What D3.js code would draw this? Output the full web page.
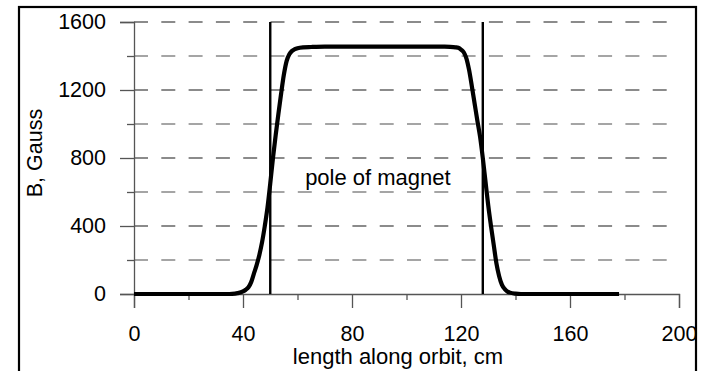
<!DOCTYPE html>
<html>
<head>
<meta charset="utf-8">
<script src="https://cdn.jsdelivr.net/npm/d3@7"></script>
<style>
  html, body { margin: 0; padding: 0; background: #fff; }
  svg { display: block; font-family: "Liberation Sans", Arial, sans-serif; }
</style>
</head>
<body>
<svg id="chart" width="704" height="371"></svg>
<script>
// Field profile along the orbit (cm -> Gauss)
const positionCm = [0, 10, 20, 30, 34, 36, 38, 40, 41, 42, 43, 44, 45, 46, 47, 48, 49, 50,
  51, 52, 53, 54, 55, 56, 57, 58, 59, 60, 62, 65, 70, 80, 90, 100, 110, 114, 116, 118, 119,
  120, 121, 122, 123, 124, 125, 126, 127, 128, 129, 130, 131, 132, 133, 134, 135, 136, 137,
  138, 140, 142, 150, 160, 170, 178];
const fieldGauss = [0, 0, 0, 0, 0, 1, 5, 15, 25, 40, 70, 120, 170, 230, 305, 400, 510, 650,
  800, 935, 1060, 1180, 1290, 1370, 1410, 1430, 1440, 1446, 1451, 1453, 1455, 1455, 1455, 1455, 1455, 1455, 1454, 1451, 1448,
  1438, 1422, 1385, 1315, 1220, 1120, 1020, 925, 800, 660, 520, 400, 290, 180, 105, 55, 30, 15,
  8, 2, 0, 0, 0, 0, 0];

// Pole edges of the magnet (cm)
const poleEdges = [50, 128];

// Axis ticks
const xTickValues = [0, 40, 80, 120, 160, 200];
const xMinorTicks = [20, 60, 100, 140, 180];
const yTickValues = [0, 400, 800, 1200, 1600];
const yMinorTicks = [200, 600, 1000, 1400];

const xTitle = "length along orbit, cm";
const yTitle = "B, Gauss";
const poleLabel = "pole of magnet";

const svg = d3.select("#chart");

// Outer frame
svg.append("rect")
  .attr("x", 19).attr("y", 7)
  .attr("width", 677).attr("height", 400)
  .attr("fill", "none").attr("stroke", "#000").attr("stroke-width", 2.2);

const x = d3.scaleLinear().domain([0, 200]).range([134, 679]);
const y = d3.scaleLinear().domain([0, 1600]).range([294, 22]);

// Dashed horizontal gridlines (major darker, minor lighter)
const grid = svg.append("g");
grid.selectAll("line.major")
  .data(yTickValues.filter(v => v > 0))
  .join("line")
  .attr("x1", x(0)).attr("x2", x(200))
  .attr("y1", d => y(d)).attr("y2", d => y(d))
  .attr("stroke", "#666").attr("stroke-width", 1.4)
  .attr("stroke-dasharray", "14 13.3");
grid.selectAll("line.minor")
  .data(yMinorTicks)
  .join("line")
  .attr("x1", x(0)).attr("x2", x(200))
  .attr("y1", d => y(d)).attr("y2", d => y(d))
  .attr("stroke", "#888").attr("stroke-width", 1.3)
  .attr("stroke-dasharray", "14 13.3");

// Y axis
const yAxis = svg.append("g")
  .attr("transform", `translate(${x(0)},0)`)
  .call(d3.axisLeft(y).tickValues(yTickValues).tickSize(14).tickPadding(14).tickFormat(d3.format("d")));
yAxis.selectAll(".tick text").attr("font-size", 21.5).attr("fill", "#000");
svg.append("g")
  .attr("transform", `translate(${x(0)},0)`)
  .call(d3.axisLeft(y).tickValues(yMinorTicks).tickSize(7).tickFormat(""))
  .call(g => g.select(".domain").remove());

// X axis
const xAxis = svg.append("g")
  .attr("transform", `translate(0,${y(0)})`)
  .call(d3.axisBottom(x).tickValues(xTickValues).tickSize(14).tickPadding(18).tickFormat(d3.format("d")));
xAxis.selectAll(".tick text").attr("font-size", 21.5).attr("fill", "#000");
svg.append("g")
  .attr("transform", `translate(0,${y(0)})`)
  .call(d3.axisBottom(x).tickValues(xMinorTicks).tickSize(6).tickFormat(""))
  .call(g => g.select(".domain").remove());

svg.selectAll(".domain, .tick line")
  .attr("stroke", "#555").attr("stroke-width", 1.3);

// Pole edge markers
svg.append("g").selectAll("line")
  .data(poleEdges)
  .join("line")
  .attr("x1", d => x(d)).attr("x2", d => x(d))
  .attr("y1", y(1600)).attr("y2", y(0))
  .attr("stroke", "#000").attr("stroke-width", 2.4);

// Field curve
const line = d3.line()
  .x((d, i) => x(positionCm[i]))
  .y(d => y(d))
  .curve(d3.curveMonotoneX);
svg.append("path")
  .datum(fieldGauss)
  .attr("d", line)
  .attr("fill", "none")
  .attr("stroke", "#000")
  .attr("stroke-width", 4.2)
  .attr("stroke-linejoin", "round");

// Annotation
svg.append("text")
  .attr("x", x(62.8)).attr("y", y(640))
  .attr("font-size", 22).attr("fill", "#000")
  .text(poleLabel);

// Axis titles
svg.append("text")
  .attr("x", 398).attr("y", 364)
  .attr("text-anchor", "middle")
  .attr("font-size", 22).attr("fill", "#000")
  .text(xTitle);
svg.append("text")
  .attr("transform", "translate(42,153) rotate(-90)")
  .attr("text-anchor", "middle")
  .attr("font-size", 21.5).attr("fill", "#000")
  .text(yTitle);
</script>
</body>
</html>
